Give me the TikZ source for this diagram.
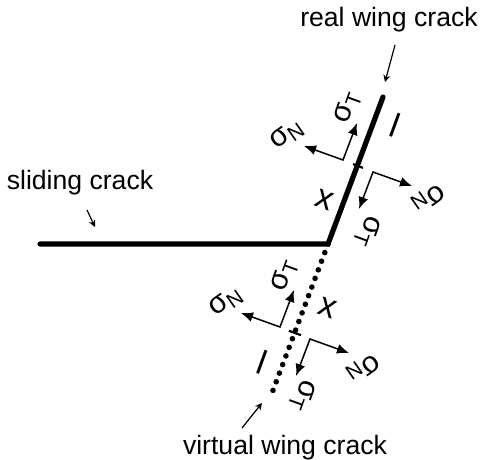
\documentclass[tikz,border=0pt]{standalone}
\usepackage{fontspec}
\setmainfont{Liberation Sans}
\usetikzlibrary{arrows.meta}

\begin{document}
\begin{tikzpicture}[x=0.5pt, y=0.5pt,
  crack/.style={line width=2.6pt, line cap=round, line join=miter},
  virtcrack/.style={line width=2.8pt, line cap=round, dash pattern=on 0pt off 4.6pt},
  stressarrow/.style={line width=0.75pt, {Latex[length=6pt,width=5pt]}-{Latex[length=6pt,width=5pt]}},
  pointer/.style={line width=0.6pt, -{Stealth[length=3.5pt,width=3.5pt]}},
  tickmark/.style={line width=1.1pt},
  lbl/.style={font=\fontsize{13.3}{16}\selectfont, inner sep=0pt},
  stress/.style={font=\fontsize{15}{18}\selectfont, inner sep=0pt},
  sym/.style={font=\fontsize{17}{20}\selectfont, inner sep=0pt, rotate=-20}]
\useasboundingbox (0,0) rectangle (482,460);

% cracks
\coordinate (slideEnd) at (40,216);
\coordinate (J) at (328,216);
\coordinate (realTip) at (383,363);
\coordinate (virtTip) at (272,67);
\draw[crack] (slideEnd) -- (J) -- (realTip);
\draw[virtcrack] (J) -- (virtTip);

% midpoints
\coordinate (tickReal) at (358,294);
\coordinate (tickVirt) at (295,127);
\draw[tickmark] (tickReal) ++(-5,1.9) -- ++(10,-3.8);
\draw[tickmark] (tickVirt) ++(-6,2.2) -- ++(12,-4.4);

% stresses on the real wing crack
\coordinate (cA) at (343,300);
\coordinate (tA) at (357,337);
\coordinate (nA) at (304,314);
\coordinate (cB) at (373,288);
\coordinate (tB) at (359,251);
\coordinate (nB) at (412,274);
\draw[stressarrow] (nA) -- (cA) -- (tA);
\draw[stressarrow] (nB) -- (cB) -- (tB);
\node[stress, rotate=35] (sNa) at (287,325) {σ\textsubscript{N}};
\node[stress, rotate=70] (sTa) at (348,353) {σ\textsubscript{T}};
\node[stress, rotate=215] (sNb) at (428,262) {σ\textsubscript{N}};
\node[stress, rotate=250] (sTb) at (367,228) {σ\textsubscript{T}};

% stresses on the virtual wing crack
\coordinate (cC) at (280,133);
\coordinate (tC) at (294,170);
\coordinate (nC) at (241,147);
\coordinate (cD) at (310,121);
\coordinate (tD) at (296,84);
\coordinate (nD) at (349,107);
\draw[stressarrow] (nC) -- (cC) -- (tC);
\draw[stressarrow] (nD) -- (cD) -- (tD);
\node[stress, rotate=35] (sNc) at (226,158) {σ\textsubscript{N}};
\node[stress, rotate=70] (sTc) at (285,185) {σ\textsubscript{T}};
\node[stress, rotate=215] (sNd) at (363,92) {σ\textsubscript{N}};
\node[stress, rotate=250] (sTd) at (302,64) {σ\textsubscript{T}};

% lengths
\node[sym] (xReal) at (325,260) {x};
\node[sym] (lReal) at (395,335) {l};
\node[sym] (xVirt) at (328,152) {x};
\node[sym] (lVirt) at (262,98) {l};

% names
\node[lbl] (realLbl) at (389,440) {real wing crack};
\node[lbl] (slideLbl) at (80,277) {sliding crack};
\node[lbl] (virtLbl) at (285,12) {virtual wing crack};
\coordinate (realFrom) at (395,415);
\coordinate (realTo) at (385,378);
\coordinate (slideFrom) at (87,250);
\coordinate (slideTo) at (95,233);
\coordinate (virtFrom) at (242,32);
\coordinate (virtTo) at (262,57);
\draw[pointer] (realFrom) -- (realTo);
\draw[pointer] (slideFrom) -- (slideTo);
\draw[pointer] (virtFrom) -- (virtTo);
\end{tikzpicture}
\end{document}
